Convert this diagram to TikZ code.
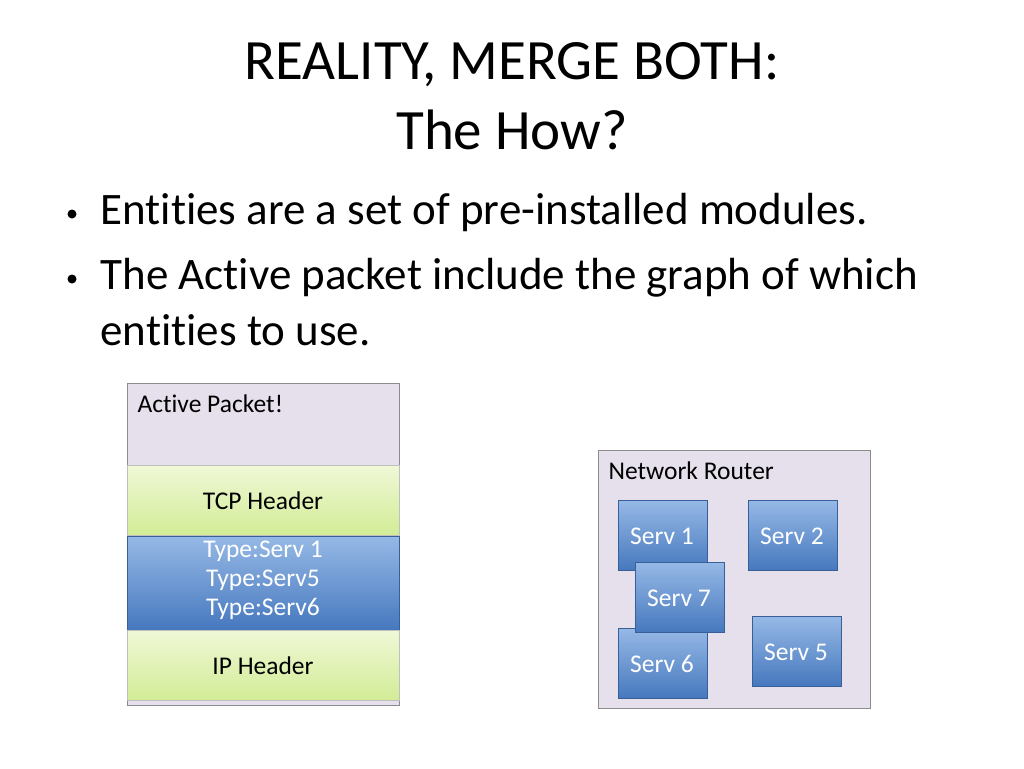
\documentclass[tikz,border=0pt]{standalone}
\usepackage{fontspec}
\setmainfont{Carlito}[Ligatures={NoCommon}]
\definecolor{lavc}{RGB}{230,224,236}
\definecolor{btop}{RGB}{150,185,230}
\definecolor{bbot}{RGB}{70,120,190}
\definecolor{gtop}{RGB}{240,248,215}
\definecolor{gbot}{RGB}{210,236,150}
\begin{document}
\begin{tikzpicture}[x=1pt,y=-1pt,
  lav/.style={draw=black!45, fill=lavc, line width=0.8pt},
  green/.style={draw=black!25, top color=gtop, bottom color=gbot, line width=0.6pt},
  bluebox/.style={draw=bbot!80!black, top color=btop, bottom color=bbot, line width=0.6pt},
  serv/.style={bluebox, minimum width=89pt, minimum height=70pt, anchor=north west},
  stxt/.style={font=\fontsize{25.5}{28}\selectfont, text=white},
  small/.style={font=\fontsize{25.5}{30}\selectfont}]
\useasboundingbox (0,0) rectangle (1024,768);
\node (t1) at (512,65) {\fontsize{57}{60}\selectfont REALITY, MERGE BOTH:};
\node (t2) at (512,130) {\fontsize{57}{60}\selectfont The How?};
\node[anchor=west] (b1) at (97,213) {\fontsize{45}{50}\selectfont Entities are a set of pre-installed modules.};
\node[anchor=west] (b2) at (97,278) {\fontsize{45}{50}\selectfont The Active packet include the graph of which};
\node[anchor=west] (b3) at (97,330) {\fontsize{45}{50}\selectfont entities to use.};
\fill (72,214) circle (4.5pt);
\fill (72,279) circle (4.5pt);
% packet
\draw[lav] (127,383) rectangle (399,705);
\node[small,anchor=west] (ap) at (134,404) {Active Packet!};
\draw[green] (127,465) rectangle (399,535);
\node[small] (tcp) at (263,501) {TCP Header};
\draw[bluebox] (127,536) rectangle (399,630);
\node[small,text=white,align=center] (types) at (263,580) {Type:Serv 1\\[-1pt]Type:Serv5\\[-1pt]Type:Serv6};
\draw[green] (127,630) rectangle (399,700);
\node[small] (ip) at (263,666) {IP Header};
% router
\draw[lav] (598,450) rectangle (870,708);
\node[small,anchor=west] (nr) at (605,471) {Network Router};
\node[serv] (s1) at (618,500) {}; \node[stxt] at (662,536) {Serv 1};
\node[serv] (s2) at (748,500) {}; \node[stxt] at (792,536) {Serv 2};
\node[serv] (s6) at (618,628) {}; \node[stxt] at (662,664) {Serv 6};
\node[serv] (s7) at (635,562) {}; \node[stxt] at (679,598) {Serv 7};
\node[serv] (s5) at (752,616) {}; \node[stxt] at (796,652) {Serv 5};
\end{tikzpicture}
\end{document}
